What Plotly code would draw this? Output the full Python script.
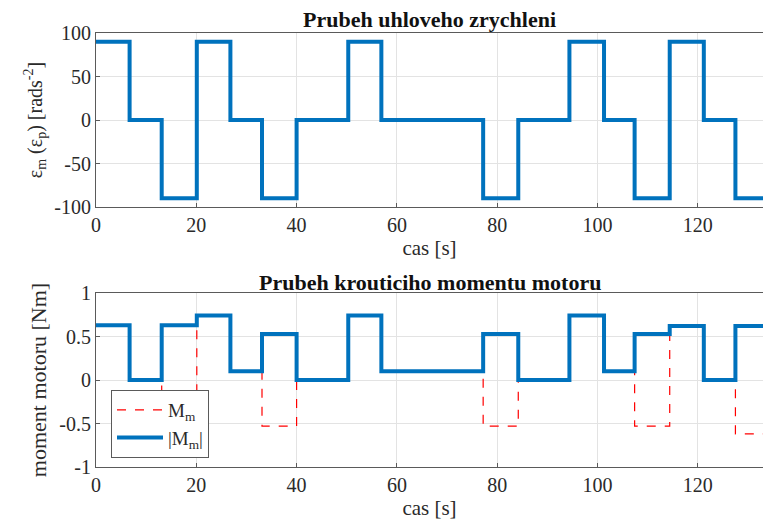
import plotly.graph_objects as go

# ---- data ----
t_edges = [0, 6.7, 13.1, 20.1, 26.8, 33.1, 40.0, 50.3, 56.9, 77.2, 84.2,
           94.4, 101.3, 107.4, 114.4, 121.2, 127.5, 133]
eps_vals = [90, 0, -90, 90, 0, -90, 0, 90, 0, -90, 0, 90, 0, -90, 90, 0, -90]
mm_vals = [0.63, 0, -0.63, 0.74, 0.1, -0.53, 0, 0.74, 0.1, -0.53, 0, 0.74,
           0.1, -0.53, 0.62, 0, -0.62]
abs_mm_vals = [0.63, 0, 0.63, 0.74, 0.1, 0.53, 0, 0.74, 0.1, 0.53, 0, 0.74,
               0.1, 0.53, 0.62, 0, 0.62]
x_ticks = [0, 20, 40, 60, 80, 100, 120]
y1_ticks = [-100, -50, 0, 50, 100]
y2_ticks = [-1, -0.5, 0, 0.5, 1]
y2_labels = ["-1", "-0.5", "0", "0.5", "1"]

FONT = "Liberation Serif, Times New Roman, serif"
BLUE = "#0072BD"
AX = "#5a5a5a"
GRID = "#e3e3e3"
TXT = "#2a2a2a"

def stepy(v):
    return list(v) + [v[-1]]

fig = go.Figure()
fig.add_trace(go.Scatter(x=t_edges, y=stepy(eps_vals), mode="lines", line_shape="hv",
                         line=dict(color=BLUE, width=4), showlegend=False,
                         xaxis="x", yaxis="y"))
fig.add_trace(go.Scatter(x=t_edges, y=stepy(mm_vals), mode="lines", line_shape="hv",
                         line=dict(color="#ff0000", width=1.2, dash="dash"),
                         name="M<sub>m</sub>", xaxis="x2", yaxis="y2"))
fig.add_trace(go.Scatter(x=t_edges, y=stepy(abs_mm_vals), mode="lines", line_shape="hv",
                         line=dict(color=BLUE, width=4),
                         name="|M<sub>m</sub>|", xaxis="x2", yaxis="y2"))

W, H = 763, 524
mt, mb, ml, mr = 33, 57, 96, 0
ph = H - mt - mb

def xax(anchor):
    return dict(range=[0, 133], tickvals=x_ticks, showgrid=True, gridcolor=GRID,
                showline=True, linecolor=AX, linewidth=1, mirror=True,
                ticks="inside", ticklen=4, tickcolor=AX, zeroline=False,
                tickfont=dict(family=FONT, size=20, color=TXT),
                title=dict(text="cas [s]", font=dict(family=FONT, size=21, color=TXT),
                           standoff=3),
                anchor=anchor)

def yax(rng, tv, tt, dom, title, anchor, tsize):
    return dict(range=rng, tickvals=tv, ticktext=tt, domain=dom, showgrid=True,
                gridcolor=GRID, showline=True, linecolor=AX, linewidth=1, mirror=False,
                ticks="inside", ticklen=4, tickcolor=AX, zeroline=False,
                tickfont=dict(family=FONT, size=20, color=TXT),
                title=dict(text=title, font=dict(family=FONT, size=tsize, color=TXT),
                           standoff=6),
                anchor=anchor)

top_dom = [(H - 207 - mb) / ph, 1.0]
bot_dom = [0.0, (H - 293 - mb) / ph]

fig.update_layout(
    width=W, height=H,
    margin=dict(l=ml, r=mr, t=mt, b=mb),
    plot_bgcolor="white", paper_bgcolor="white",
    xaxis=xax("y"),
    yaxis=yax([-100, 100], y1_ticks, [str(v) for v in y1_ticks], top_dom,
              "ε<sub>m</sub> (ε<sub>p</sub>) [rads<sup>-2</sup>]", "x", 20),
    xaxis2=xax("y2"),
    yaxis2=yax([-1, 1], y2_ticks, y2_labels, bot_dom, "moment motoru [Nm]", "x2", 22),
    legend=dict(x=(111 - ml) / (W - ml - mr), y=(H - mb - 390) / ph,
                xanchor="left", yanchor="top", bgcolor="white",
                bordercolor=AX, borderwidth=1, itemwidth=46,
                font=dict(family=FONT, size=19, color=TXT),
                tracegroupgap=0),
    annotations=[
        dict(text="<b>Prubeh uhloveho zrychleni</b>", xref="paper", yref="paper",
             x=0.5, y=(H - mb - 20) / ph, xanchor="center", yanchor="middle",
             showarrow=False, font=dict(family=FONT, size=22, color="#111")),
        dict(text="<b>Prubeh krouticiho momentu motoru</b>", xref="paper", yref="paper",
             x=0.5, y=(H - mb - 282) / ph, xanchor="center", yanchor="middle",
             showarrow=False, font=dict(family=FONT, size=22, color="#111")),
    ],
)

fig.write_html("out.html")
